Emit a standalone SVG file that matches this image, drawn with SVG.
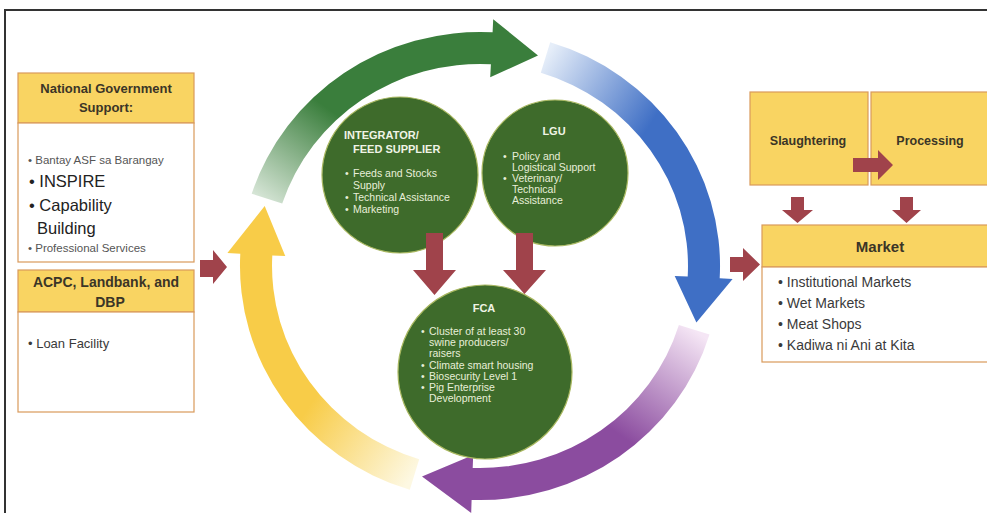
<svg xmlns="http://www.w3.org/2000/svg" width="987" height="513" viewBox="0 0 987 513">
<defs>
<style>
text{font-family:"Liberation Sans",Arial,sans-serif;}
.hdr{fill:#F9D462;stroke:#D99A5B;stroke-width:1.2;}
.body{fill:#ffffff;stroke:#D99A5B;stroke-width:1.2;}
.hd{font-weight:bold;fill:#3b3527;}
.red{fill:#A0434B;}
.circ{fill:#3E6B2B;stroke:#A9B860;stroke-width:1.2;}
.ct{fill:#E8EFD9;font-size:10.5px;}
.cth{fill:#F0F4E6;font-size:11px;font-weight:bold;}
.lt{fill:#3a3a3a;}
</style>
<linearGradient id="gG" gradientUnits="userSpaceOnUse" x1="262" y1="205" x2="330" y2="110"><stop offset="0" stop-color="#dce9dc"/><stop offset="1" stop-color="#3A7E3C"/></linearGradient>
<linearGradient id="gB" gradientUnits="userSpaceOnUse" x1="545" y1="57" x2="650" y2="125"><stop offset="0" stop-color="#e6eef9"/><stop offset="1" stop-color="#3F6FC5"/></linearGradient>
<linearGradient id="gP" gradientUnits="userSpaceOnUse" x1="694" y1="330" x2="620" y2="435"><stop offset="0" stop-color="#f5e6f5"/><stop offset="1" stop-color="#8B4C9F"/></linearGradient>
<linearGradient id="gY" gradientUnits="userSpaceOnUse" x1="414" y1="474" x2="310" y2="405"><stop offset="0" stop-color="#fdf8e2"/><stop offset="1" stop-color="#F8CC48"/></linearGradient>
</defs>
<rect width="987" height="513" fill="#ffffff"/>
<path d="M5,513 V10 H987" fill="none" stroke="#333333" stroke-width="2"/>

<g id="cycle">
<path d="M251.7,193.7 A240,234 0 0 1 492.6,32.3 L493.2,19.3 L538,55.4 L490.2,77.3 L490.9,64.3 A208,202 0 0 0 282.2,203.6 Z" fill="url(#gG)"/>
<path d="M550.2,42.2 A240,234 0 0 1 719.7,278.2 L732.6,278.9 L696.4,322.4 L674.7,275.9 L687.7,276.6 A208,202 0 0 0 540.8,72.8 Z" fill="url(#gB)"/>
<path d="M709.5,334.4 A240,234 0 0 1 471.6,499.9 L471.2,512.9 L422,476.6 L473.2,454.9 L472.7,467.9 A208,202 0 0 0 678.9,325.1 Z" fill="url(#gP)"/>
<path d="M409.8,489.8 A240,234 0 0 1 240.3,253.8 L227.4,253.1 L264.7,205.9 L285.3,256.1 L272.3,255.4 A208,202 0 0 0 419.2,459.2 Z" fill="url(#gY)"/>
</g>

<g id="national-government">
<rect class="hdr" x="18" y="73" width="176" height="50"/>
<rect class="body" x="18" y="123" width="176" height="139"/>
<text class="hd" x="106" y="93" font-size="13" text-anchor="middle">National Government</text>
<text class="hd" x="106" y="112" font-size="13" text-anchor="middle">Support:</text>
<text x="28" y="164" font-size="11.5" fill="#555555">• Bantay ASF sa Barangay</text>
<text x="29" y="187" font-size="16.5" fill="#222222">• INSPIRE</text>
<text x="29" y="211" font-size="16.5" fill="#222222">• Capability</text>
<text x="37" y="234" font-size="16.5" fill="#222222">Building</text>
<text x="28" y="252" font-size="11.5" fill="#555555">• Professional Services</text>
</g>

<g id="acpc">
<rect class="hdr" x="18" y="270" width="176" height="42"/>
<rect class="body" x="18" y="312" width="176" height="100"/>
<text class="hd" x="106" y="287" font-size="14" text-anchor="middle">ACPC, Landbank, and</text>
<text class="hd" x="110" y="307" font-size="14" text-anchor="middle">DBP</text>
<text x="28" y="348" font-size="13" fill="#3a3a3a">• Loan Facility</text>
</g>

<g id="integrator">
<circle class="circ" cx="400" cy="175" r="78"/>
<text class="cth" x="344" y="139">INTEGRATOR/</text>
<text class="cth" x="353" y="153" font-size="10.5">FEED SUPPLIER</text>
<text class="ct" x="345" y="177">•</text><text class="ct" x="353" y="177">Feeds and Stocks</text>
<text class="ct" x="353" y="189">Supply</text>
<text class="ct" x="345" y="201">•</text><text class="ct" x="353" y="201" font-size="9.5">Technical Assistance</text>
<text class="ct" x="345" y="213">•</text><text class="ct" x="353" y="213">Marketing</text>
</g>

<g id="lgu">
<circle class="circ" cx="555" cy="173" r="73"/>
<text class="cth" x="554" y="135" text-anchor="middle">LGU</text>
<text class="ct" x="503" y="160">•</text><text class="ct" x="512" y="160">Policy and</text>
<text class="ct" x="512" y="171">Logistical Support</text>
<text class="ct" x="503" y="182">•</text><text class="ct" x="512" y="182">Veterinary/</text>
<text class="ct" x="512" y="193">Technical</text>
<text class="ct" x="512" y="204">Assistance</text>
</g>

<g id="fca">
<circle class="circ" cx="485" cy="372" r="87"/>
<text class="cth" x="484" y="312" text-anchor="middle">FCA</text>
<text class="ct" x="421" y="335">•</text><text class="ct" x="429" y="335">Cluster of at least 30</text>
<text class="ct" x="429" y="346">swine producers/</text>
<text class="ct" x="429" y="357">raisers</text>
<text class="ct" x="421" y="369">•</text><text class="ct" x="429" y="369">Climate smart housing</text>
<text class="ct" x="421" y="380">•</text><text class="ct" x="429" y="380">Biosecurity Level 1</text>
<text class="ct" x="421" y="391">•</text><text class="ct" x="429" y="391">Pig Enterprise</text>
<text class="ct" x="429" y="402">Development</text>
</g>

<g id="slaughtering">
<rect class="hdr" x="750" y="92" width="118" height="93"/>
<text class="hd" x="808" y="145" font-size="12.5" text-anchor="middle">Slaughtering</text>
</g>

<g id="processing">
<rect class="hdr" x="871" y="92" width="120" height="93"/>
<text class="hd" x="930" y="145" font-size="12.5" text-anchor="middle">Processing</text>
</g>

<g id="market">
<rect class="hdr" x="762" y="225" width="230" height="42"/>
<rect class="body" x="762" y="267" width="230" height="95"/>
<text class="hd" x="880" y="252" font-size="15" text-anchor="middle">Market</text>
<text class="lt" x="778" y="287" font-size="14">• Institutional Markets</text>
<text class="lt" x="778" y="308" font-size="14">• Wet Markets</text>
<text class="lt" x="778" y="329" font-size="14">• Meat Shops</text>
<text class="lt" x="778" y="350" font-size="14">• Kadiwa ni Ani at Kita</text>
</g>

<g id="connectors">
<path class="red" d="M200,260 H213 V250 L227,267 L213,284 V277 H200 Z"/>
<path class="red" d="M730,257 H743 V248 L760,264.5 L743,281 V272 H730 Z"/>
<path class="red" d="M853,158 H878 V150 L893,165 L878,180 V172 H853 Z"/>
<path class="red" d="M791,197 H804 V210 H813 L797.5,223 L782,210 H791 Z"/>
<path class="red" d="M900,197 H913 V210 H921 L906.5,223 L892,210 H900 Z"/>
<path class="red" d="M426,233 H443 V270 H456 L434.5,295 L413,270 H426 Z"/>
<path class="red" d="M516,233 H533 V270 H546 L524.5,294 L503,270 H516 Z"/>
</g>
</svg>
